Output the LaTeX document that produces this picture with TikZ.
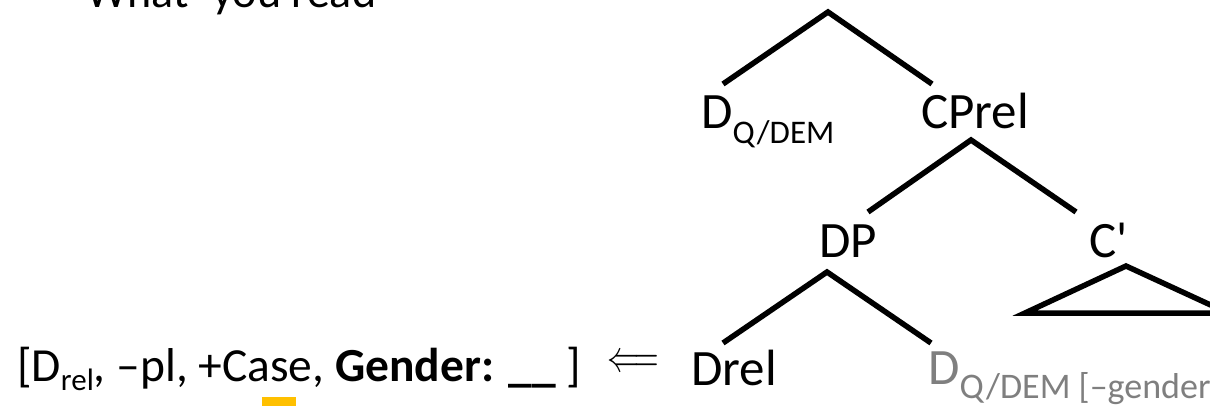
\documentclass[tikz,border=0pt]{standalone}
\usepackage{fontspec}
\setmainfont{Carlito}
\definecolor{dimgray}{RGB}{127,127,127}
\definecolor{marker}{RGB}{255,192,0}
% lowered small text for the category indices
\newcommand{\lowtxt}[3][0.28em]{\raisebox{-#1}{\fontsize{#2}{40}\selectfont #3}}
\begin{document}
\begin{tikzpicture}[x=1pt,y=-1pt,
  lbl/.style={inner sep=0pt,anchor=base west,font=\fontsize{51}{61}\selectfont},
  branch/.style={line width=5.5pt}]
\useasboundingbox (0,0) rectangle (1210,406);
% heading, cut at the top
\node[lbl,font=\fontsize{46}{55}\selectfont] (title) at (75,8) {‘What’ you read};
% tree labels
\node[lbl] (dqdem) at (701,129) {D\lowtxt{33}{Q/DEM}};
\node[lbl] (cprel) at (921,129) {CPrel};
\node[lbl] (dp) at (819,257) {DP};
\node[lbl] (cbar) at (1089,257) {C\textquotesingle};
\node[lbl] (drel) at (691,385) {Drel};
\node[lbl,text=dimgray] (dgender) at (928,384) {D\lowtxt{36}{Q/DEM [–gender]}};
% feature bundle
\node[lbl,font=\fontsize{47.5}{57}\selectfont] (feats) at (17,381) {[D\lowtxt[0.2em]{31}{rel}, –pl, +Case, \textbf{Gender: \_\_} ]};
\node[inner sep=0pt,anchor=west] (arrow) at (607,363) {\scalebox{3.2}[4.4]{$\Longleftarrow$}};
\fill[marker] (262,397) rectangle (296,406);
% branching points
\coordinate (np) at (828,12);
\coordinate (np-l) at (723,84);
\coordinate (np-r) at (932,84);
\coordinate (cp) at (971,140);
\coordinate (cp-l) at (868,212);
\coordinate (cp-r) at (1076,212);
\coordinate (dpx) at (827,272);
\coordinate (dpx-l) at (723,343);
\coordinate (dpx-r) at (931,343);
\coordinate (tri) at (1126,266);
\coordinate (tri-l) at (1025,313);
\coordinate (tri-r) at (1228,313);
% branches
\draw[branch] (np-l) -- (np) -- (np-r);
\draw[branch] (cp-l) -- (cp) -- (cp-r);
\draw[branch] (dpx-l) -- (dpx) -- (dpx-r);
\draw[branch] (tri) -- (tri-l) -- (tri-r) -- cycle;
\end{tikzpicture}
\end{document}
